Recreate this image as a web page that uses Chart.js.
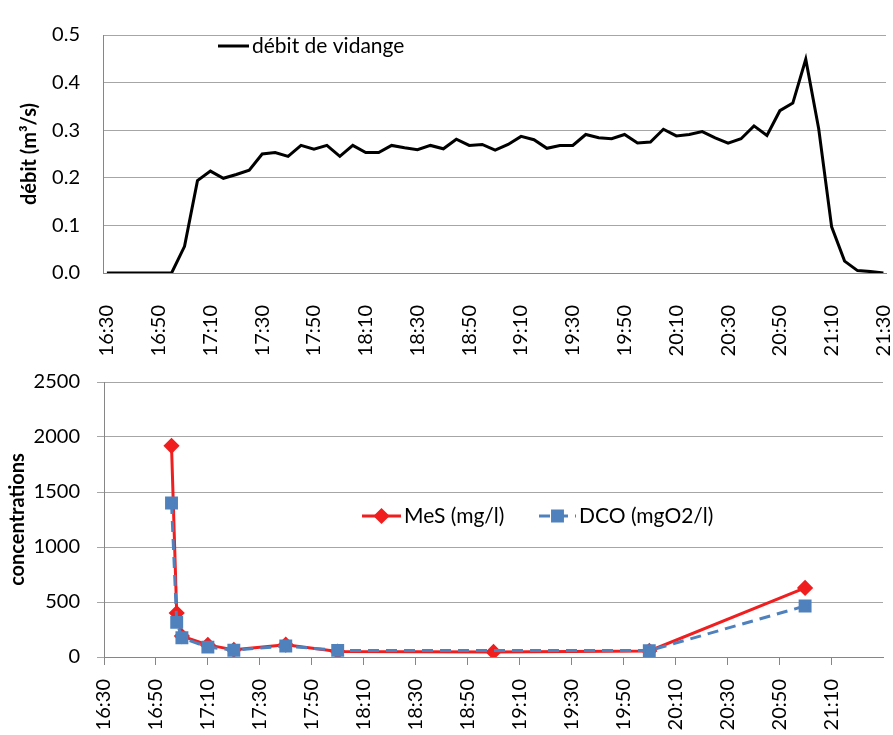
<!DOCTYPE html>
<html>
<head>
<meta charset="utf-8">
<script src="https://cdn.jsdelivr.net/npm/chart.js@4/dist/chart.umd.min.js"></script>
<style>
  body { margin: 0; background: #fff; }
  .wrap { position: relative; width: 893px; height: 735px; }
  canvas { display: block; position: absolute; left: 0; }
  #flow-chart { top: 0; }
  #conc-chart { top: 350px; }
</style>
</head>
<body>
<div class="wrap">
  <canvas id="flow-chart" width="893" height="368"></canvas>
  <canvas id="conc-chart" width="893" height="385"></canvas>
</div>
<script>
// ── Data ──────────────────────────────────────────────────────────────────────
const FLOW_TIMES = [
  '16:30','16:35','16:40','16:45','16:50','16:55',
  '17:00','17:05','17:10','17:15','17:20','17:25','17:30','17:35','17:40','17:45','17:50','17:55',
  '18:00','18:05','18:10','18:15','18:20','18:25','18:30','18:35','18:40','18:45','18:50','18:55',
  '19:00','19:05','19:10','19:15','19:20','19:25','19:30','19:35','19:40','19:45','19:50','19:55',
  '20:00','20:05','20:10','20:15','20:20','20:25','20:30','20:35','20:40','20:45','20:50','20:55',
  '21:00','21:05','21:10','21:15','21:20','21:25','21:30',
];
const FLOW_VALUES = [
  0, 0, 0, 0, 0, 0,
  0.056, 0.194, 0.214, 0.199, 0.207, 0.216, 0.250, 0.253, 0.245, 0.268, 0.260, 0.268,
  0.245, 0.268, 0.253, 0.253, 0.268, 0.263, 0.259, 0.268, 0.261, 0.281, 0.268, 0.270,
  0.258, 0.270, 0.287, 0.280, 0.262, 0.268, 0.268, 0.291, 0.284, 0.282, 0.291, 0.273,
  0.275, 0.302, 0.288, 0.291, 0.297, 0.284, 0.273, 0.282, 0.309, 0.289, 0.341, 0.357,
  0.449, 0.303, 0.097, 0.025, 0.005, 0.003, 0,
];

const MES_TIMES  = ['16:56','16:58','17:00','17:10','17:20','17:40','18:00','19:00','20:00','21:00'];
const MES_VALUES = [1920, 400, 190, 110, 65, 112, 50, 46, 55, 628];

const DCO_TIMES  = ['16:56','16:58','17:00','17:10','17:20','17:40','18:00','20:00','21:00'];
const DCO_VALUES = [1400, 315, 175, 90, 62, 100, 60, 58, 464];

const FLOW_TICKS = ['16:30','16:50','17:10','17:30','17:50','18:10','18:30','18:50',
                    '19:10','19:30','19:50','20:10','20:30','20:50','21:10','21:30'];
const CONC_TICKS = FLOW_TICKS.slice(0, 15);   // 16:30 … 21:10

// ── Helpers ───────────────────────────────────────────────────────────────────
const toMin = s => { const [h, m] = s.split(':').map(Number); return h * 60 + m; };
const fmtMin = v => Math.floor(v / 60) + ':' + String(Math.round(v % 60)).padStart(2, '0');
const toPoints = (times, values) => times.map((t, i) => ({ x: toMin(t), y: values[i] }));

const FONT      = 'Lato, "Liberation Sans", sans-serif';
const GRID      = '#a6a6a6';
const AXIS      = '#868686';
const RED       = '#f01e1e';
const BLUE      = '#4f81bd';

// Draws a legend inside the plot at a given canvas position
const inlineLegend = {
  id: 'inlineLegend',
  afterDraw(chart, args, opts) {
    const ctx = chart.ctx;
    ctx.save();
    ctx.font = `21px ${FONT}`;
    ctx.textBaseline = 'middle';
    opts.items.forEach(it => {
      const ds = chart.data.datasets[it.index];
      ctx.strokeStyle = ds.borderColor;
      ctx.lineWidth   = ds.borderWidth;
      ctx.setLineDash(ds.borderDash || []);
      ctx.beginPath();
      ctx.moveTo(it.x, opts.y);
      ctx.lineTo(it.x + it.w, opts.y);
      ctx.stroke();
      ctx.setLineDash([]);
      if (ds.pointRadius) {
        ctx.fillStyle = ds.pointBackgroundColor;
        ctx.strokeStyle = ds.pointBorderColor;
        Chart.helpers.drawPoint(ctx, {
          pointStyle: ds.pointStyle, radius: ds.pointRadius, borderWidth: 1, rotation: 0,
        }, it.x + it.w / 2, opts.y);
      }
      ctx.fillStyle = '#000';
      ctx.fillText(ds.label, it.x + it.w + 3, opts.y);
    });
    ctx.restore();
  },
};

const timeAxis = (min, max, ticks, extra) => ({
  type: 'linear',
  min, max,
  afterBuildTicks: axis => { axis.ticks = ticks.map(t => ({ value: toMin(t) })); },
  afterFit: s => { s.height = extra.height; s.paddingLeft = 0; s.paddingRight = 0; },
  ticks: {
    autoSkip: false, minRotation: 90, maxRotation: 90,
    padding: extra.padding, color: '#000',
    font: { family: FONT, size: 20 },
    callback: v => fmtMin(v),
  },
  grid: extra.grid,
  border: { color: AXIS, width: 1 },
});

// ── Débit chart ───────────────────────────────────────────────────────────────
new Chart(document.getElementById('flow-chart'), {
  type: 'line',
  data: {
    datasets: [{
      label: 'débit de vidange',
      data: toPoints(FLOW_TIMES, FLOW_VALUES),
      borderColor: '#000',
      borderWidth: 3,
      pointRadius: 0,
      tension: 0,
    }],
  },
  options: {
    responsive: false,
    animation: false,
    layout: { padding: { top: 19, right: 7, left: 0, bottom: 0 } },
    plugins: {
      legend: { display: false },
      tooltip: { enabled: false },
      inlineLegend: { y: 46, items: [{ index: 0, x: 218, w: 31 }] },
    },
    scales: {
      x: timeAxis(988.5, 1291, FLOW_TICKS, {
        height: 95, padding: 24, grid: { display: false },
      }),
      y: {
        min: 0, max: 0.5,
        afterFit: s => { s.width = 103; },
        ticks: {
          stepSize: 0.1, padding: 23, color: '#000',
          font: { family: FONT, size: 20 },
          callback: v => v.toFixed(1),
        },
        grid: { color: GRID, drawTicks: false },
        border: { color: AXIS },
        title: {
          display: true, text: 'débit (m³/s)', color: '#000',
          font: { family: FONT, size: 20, weight: 'bold' },
          padding: { top: 18, bottom: 0 },
        },
      },
    },
  },
  plugins: [inlineLegend],
});

// ── Concentrations chart ─────────────────────────────────────────────────────
new Chart(document.getElementById('conc-chart'), {
  type: 'line',
  data: {
    datasets: [
      {
        label: 'MeS (mg/l)',
        data: toPoints(MES_TIMES, MES_VALUES),
        borderColor: RED,
        borderWidth: 3,
        pointStyle: 'rectRot',
        pointRadius: 6,
        pointBackgroundColor: RED,
        pointBorderColor: RED,
        tension: 0,
        order: 2,
      },
      {
        label: 'DCO (mgO2/l)',
        data: toPoints(DCO_TIMES, DCO_VALUES),
        borderColor: BLUE,
        borderWidth: 3,
        borderDash: [11, 7],
        pointStyle: 'rect',
        pointRadius: 7,
        pointBackgroundColor: BLUE,
        pointBorderColor: BLUE,
        tension: 0,
        order: 1,
      },
    ],
  },
  options: {
    responsive: false,
    animation: false,
    layout: { padding: { top: 32, right: 6, left: 0, bottom: 0 } },
    plugins: {
      legend: { display: false },
      tooltip: { enabled: false },
      inlineLegend: {
        y: 166,
        items: [{ index: 0, x: 362, w: 39 }, { index: 1, x: 539, w: 37 }],
      },
    },
    scales: {
      x: timeAxis(990, 1290, CONC_TICKS, {
        height: 78, padding: 14,
        grid: { display: true, drawOnChartArea: false, drawTicks: true, tickLength: 8, color: AXIS },
      }),
      y: {
        min: 0, max: 2500,
        afterFit: s => { s.width = 104; },
        ticks: {
          stepSize: 500, padding: 17, color: '#000',
          font: { family: FONT, size: 20 },
          callback: v => String(v),
        },
        grid: { color: GRID, tickLength: 7 },
        border: { color: AXIS },
        title: {
          display: true, text: 'concentrations', color: '#000',
          font: { family: FONT, size: 20, weight: 'bold' },
          padding: { top: 6, bottom: 0 },
        },
      },
    },
  },
  plugins: [inlineLegend],
});
</script>
</body>
</html>
